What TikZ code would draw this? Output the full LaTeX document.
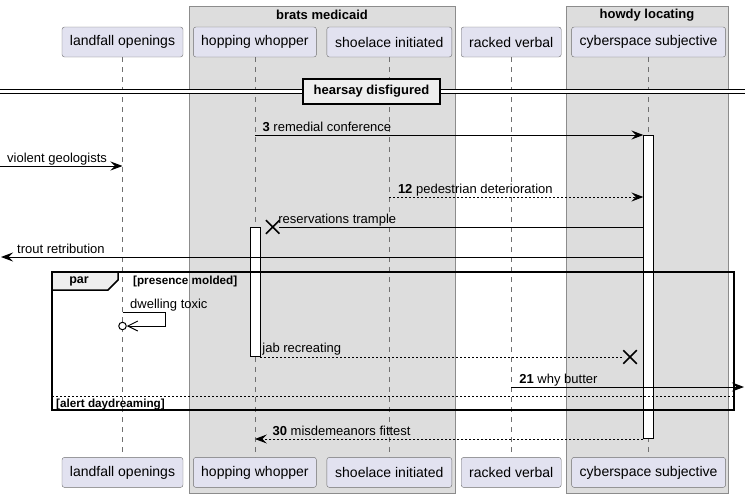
\documentclass[tikz,border=0pt]{standalone}
\usepackage{fontspec}
\setmainfont{Liberation Sans}
\usetikzlibrary{arrows.meta, positioning, shapes.misc}
\definecolor{partfill}{HTML}{E2E2F0}
\definecolor{partline}{HTML}{6E6E6E}
\definecolor{boxfill}{HTML}{DDDDDD}
\definecolor{boxline}{HTML}{8C8C8C}
\definecolor{tabfill}{HTML}{EEEEEE}
\definecolor{lifegray}{HTML}{707070}

\begin{document}
\begin{tikzpicture}[x=1pt, y=-1pt]
    % Define styles for the nodes
    \tikzstyle{partbox} = [
        text centered, draw=partline, fill=partfill, rounded corners=2.5pt,
        minimum height=30pt, inner sep=0, font=\fontsize{14}{16}\selectfont
    ]
    \tikzstyle{actbox} = [draw, fill=white, minimum width=10pt, inner sep=0]
    \tikzstyle{msgline} = [line width=1pt]
    \tikzstyle{msg} = [msgline, -{Stealth[length=12pt, width=9pt, inset=4.5pt]}]
    \tikzstyle{reply} = [msg, dash pattern=on 2pt off 2pt]
    \tikzstyle{msglabel} = [
        inner sep=0, anchor=base west, font=\fontsize{13}{15}\selectfont
    ]
    \tikzstyle{lostx} = [
        cross out, draw, line width=1.5pt, minimum size=12pt, inner sep=0
    ]
    \tikzstyle{boxtitle} = [font=\bfseries\fontsize{13}{15}\selectfont]
    \tikzstyle{guard} = [
        inner sep=0, anchor=west, font=\bfseries\fontsize{11.7}{14}\selectfont
    ]

    \useasboundingbox (0,0) rectangle (750,498);

    % Groups
    \draw[draw=boxline, fill=boxfill] (189,6) rectangle (455,493);
    \draw[draw=boxline, fill=boxfill] (566,6) rectangle (728,493);
    \node[boxtitle] (brats_title) at (322,15) {brats medicaid};
    \node[boxtitle] (howdy_title) at (647,15) {howdy locating};

    % Participants (top)
    \node[partbox, minimum width=121pt] (landfall) at (122.5,42) {landfall openings};
    \node[partbox, minimum width=123pt, right=10pt of landfall] (hopping) {hopping whopper};
    \node[partbox, minimum width=125pt, right=10pt of hopping] (shoelace) {shoelace initiated};
    \node[partbox, minimum width=100pt, right=9pt of shoelace] (racked) {racked verbal};
    \node[partbox, minimum width=154pt, right=10pt of racked] (cyber) {cyberspace subjective};

    % Participants (bottom)
    \node[partbox, minimum width=121pt, below=400pt of landfall] (landfall_b) {landfall openings};
    \node[partbox, minimum width=123pt, below=400pt of hopping] (hopping_b) {hopping whopper};
    \node[partbox, minimum width=125pt, below=400pt of shoelace] (shoelace_b) {shoelace initiated};
    \node[partbox, minimum width=100pt, below=400pt of racked] (racked_b) {racked verbal};
    \node[partbox, minimum width=154pt, below=400pt of cyber] (cyber_b) {cyberspace subjective};

    % Lifelines
    \foreach \p in {landfall, hopping, shoelace, racked, cyber}
        \draw[lifegray, line width=0.8pt, dash pattern=on 5pt off 5pt]
            (\p.south) -- (\p_b.north);

    % Divider
    \coordinate (div_l) at (0,91.6);
    \coordinate (div_r) at (745,91.6);
    \draw[line width=1pt, double distance=3.6pt] (div_l) -- (div_r);
    \node[
        draw, line width=1.5pt, fill=tabfill, minimum width=137pt,
        minimum height=25pt, boxtitle
    ] (hearsay) at (371.5,91.5) {hearsay disfigured};

    % Activations
    \node[actbox, minimum height=303pt, anchor=north] (cyber_act) at (cyber |- 0,135) {};
    \node[actbox, minimum height=129pt, anchor=north] (hopping_act) at (255,227) {};

    % Message 3
    \coordinate (m3_from) at (hopping |- 0,135);
    \draw[msg] (m3_from) -- (cyber_act.north west);
    \node[msglabel, xshift=7.5pt, yshift=4pt] (m3_label) at (m3_from)
        {\textbf{3} remedial conference};

    % Incoming message
    \coordinate (vg_in) at (0,166);
    \draw[msg] (vg_in) -- (landfall |- vg_in);
    \node[msglabel, xshift=7pt, yshift=4pt] (vg_label) at (vg_in) {violent geologists};

    % Message 12
    \coordinate (m12_from) at (shoelace |- 0,197);
    \draw[reply] (m12_from) -- (cyber_act.west |- m12_from);
    \node[msglabel, xshift=8.5pt, yshift=4pt] (m12_label) at (m12_from)
        {\textbf{12} pedestrian deterioration};

    % Lost message
    \node[lostx] (rt_x) at (272.7,227) {};
    \draw[msgline] (cyber_act.west |- rt_x) -- (rt_x);
    \node[msglabel, xshift=5.5pt, yshift=4pt] (rt_label) at (rt_x) {reservations trample};

    % Outgoing message
    \coordinate (tr_out) at (1,257);
    \draw[msg] (cyber_act.west |- tr_out) -- (tr_out);
    \node[msglabel, xshift=16pt, yshift=4pt] (tr_label) at (tr_out) {trout retribution};

    % Par frame
    \draw[line width=1.5pt] (52,272) rectangle (734,410);
    \draw[line width=1.5pt, fill=tabfill]
        (52,272) -- (118,272) -- (118,280) -- (108,290) -- (52,290) -- cycle;
    \node[boxtitle, font=\bfseries\fontsize{12.5}{15}\selectfont] (par_title) at (79,281.5) {par};
    \node[guard] (par_guard) at (133,281) {[presence molded]};

    % Self message
    \coordinate (dt_from) at (landfall |- 0,312);
    \node[circle, draw, line width=1pt, fill=white, minimum size=7.5pt, inner sep=0]
        (dt_o) at (landfall |- 0,326) {};
    \draw[msgline, -{Straight Barb[length=10pt, width=10pt]}]
        (dt_from) -- ++(43,0) |- (dt_o);
    \node[msglabel, xshift=7.5pt, yshift=4pt] (dt_label) at (dt_from) {dwelling toxic};

    % Lost reply
    \node[lostx] (jr_x) at (630,357) {};
    \draw[msgline, dash pattern=on 2pt off 2pt] (hopping_act.east |- jr_x) -- (jr_x);
    \node[msglabel, xshift=2pt, yshift=5pt] (jr_label) at (hopping_act.east |- jr_x)
        {jab recreating};

    % Message 21
    \coordinate (wb_out) at (744,387);
    \draw[msg] (racked |- wb_out) -- (wb_out);
    \node[msglabel, xshift=8pt, yshift=4pt] (wb_label) at (racked |- wb_out)
        {\textbf{21} why butter};

    % Else branch
    \coordinate (else_l) at (52,396);
    \coordinate (else_r) at (734,396);
    \draw[msgline, dash pattern=on 2pt off 2pt] (else_l) -- (else_r);
    \node[guard] (else_guard) at (56,404) {[alert daydreaming]};

    % Message 30
    \coordinate (m30_from) at (cyber_act.west |- 0,439);
    \draw[reply] (m30_from) -- (hopping |- m30_from);
    \node[msglabel, xshift=17.5pt, yshift=4pt] (m30_label) at (hopping |- m30_from)
        {\textbf{30} misdemeanors fittest};

\end{tikzpicture}
\end{document}
